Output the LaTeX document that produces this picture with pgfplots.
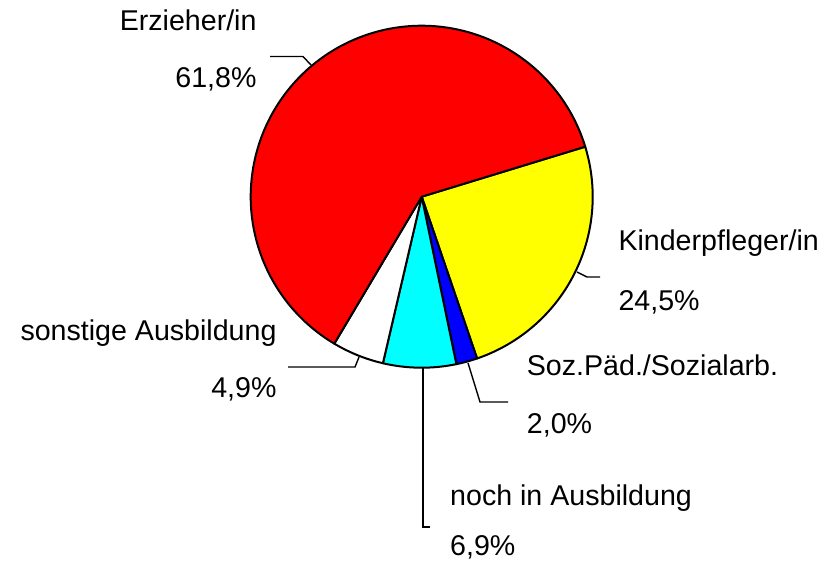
\documentclass[border=0pt]{standalone}
\usepackage{pgfplots}
\pgfplotsset{compat=1.18}
\usepackage{fontspec}
\setmainfont{Liberation Sans}
\definecolor{pRed}{RGB}{255,0,0}
\definecolor{pYellow}{RGB}{255,255,0}
\definecolor{pBlue}{RGB}{0,0,255}
\definecolor{pCyan}{RGB}{0,255,255}
% data (percent)
\def\vErz{61.8}
\def\vKin{24.5}
\def\vSoz{2.0}
\def\vNoch{6.9}
\def\vSon{4.9}
\begin{document}
\fontsize{28.6}{34}\selectfont
\begin{tikzpicture}
\useasboundingbox (0,0) rectangle (830pt,562pt);
\pgfmathsetmacro\tot{\vErz+\vKin+\vSoz+\vNoch+\vSon}
\pgfmathsetmacro\aA{17}
\pgfmathsetmacro\aB{\aA-\vKin/\tot*360}
\pgfmathsetmacro\aC{\aB-\vSoz/\tot*360}
\pgfmathsetmacro\aD{\aC-\vNoch/\tot*360}
\pgfmathsetmacro\aE{\aD-\vSon/\tot*360}
\pgfmathsetmacro\aF{\aE-\vErz/\tot*360}
\def\cx{421.7}
\def\cy{196.7}
\def\pieR{171}
\begin{axis}[at={(0,0)}, anchor=south west, width=830pt, height=562pt,
  scale only axis, xmin=0, xmax=830, ymin=0, ymax=562, y dir=reverse,
  hide axis, clip=false]
\addplot[fill=pYellow, draw=black, line width=2pt, line join=round, domain=\aB:\aA, samples=80]
  ({\cx+\pieR*cos(x)},{\cy-\pieR*sin(x)}) -- (axis cs:\cx,\cy) -- cycle;
\addplot[fill=pBlue, draw=black, line width=2pt, line join=round, domain=\aC:\aB, samples=10]
  ({\cx+\pieR*cos(x)},{\cy-\pieR*sin(x)}) -- (axis cs:\cx,\cy) -- cycle;
\addplot[fill=pCyan, draw=black, line width=2pt, line join=round, domain=\aD:\aC, samples=30]
  ({\cx+\pieR*cos(x)},{\cy-\pieR*sin(x)}) -- (axis cs:\cx,\cy) -- cycle;
\addplot[fill=white, draw=black, line width=2pt, line join=round, domain=\aE:\aD, samples=25]
  ({\cx+\pieR*cos(x)},{\cy-\pieR*sin(x)}) -- (axis cs:\cx,\cy) -- cycle;
\addplot[fill=pRed, draw=black, line width=2pt, line join=round, domain=\aF:\aE, samples=200]
  ({\cx+\pieR*cos(x)},{\cy-\pieR*sin(x)}) -- (axis cs:\cx,\cy) -- cycle;
% leader lines
\addplot[black, line width=1.4pt] coordinates {(311,65) (303,56.5) (270,56.5)};
\addplot[black, line width=1.4pt] coordinates {(577,272) (587,277) (600,277)};
\addplot[black, line width=1.4pt] coordinates {(468,363) (480,402) (508,402)};
\addplot[black, line width=1.4pt] coordinates {(423,367) (423,527) (430,527)};
\addplot[black, line width=1.4pt] coordinates {(359,357) (355,367) (288,367)};
% labels
\node[anchor=base east, inner sep=0] at (axis cs:256.7,30.7) {Erzieher/in};
\node[anchor=base east, inner sep=0] at (axis cs:256.7,87.3) {61,8\%};
\node[anchor=base west, inner sep=0] at (axis cs:618.3,250) {Kinderpfleger/in};
\node[anchor=base west, inner sep=0] at (axis cs:618.3,310) {24,5\%};
\node[anchor=base west, inner sep=0] at (axis cs:526.7,375) {Soz.Päd./Sozialarb.};
\node[anchor=base west, inner sep=0] at (axis cs:526.7,433.3) {2,0\%};
\node[anchor=base east, inner sep=0] at (axis cs:276.7,340) {sonstige Ausbildung};
\node[anchor=base east, inner sep=0] at (axis cs:276.7,397.3) {4,9\%};
\node[anchor=base west, inner sep=0] at (axis cs:450,505) {noch in Ausbildung};
\node[anchor=base west, inner sep=0] at (axis cs:450,555) {6,9\%};
\end{axis}
\end{tikzpicture}
\end{document}
